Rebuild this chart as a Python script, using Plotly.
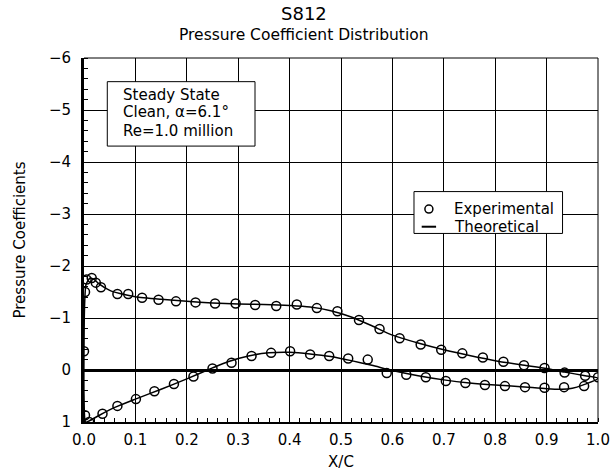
import plotly.graph_objects as go

# ---------------- data ----------------
exp_upper_x = [0.0, 0.002, 0.005, 0.015, 0.023, 0.033, 0.065, 0.086, 0.113, 0.145, 0.179,
               0.217, 0.255, 0.295, 0.333, 0.374, 0.414, 0.453, 0.493, 0.535, 0.575,
               0.614, 0.655, 0.695, 0.736, 0.776, 0.816, 0.856, 0.896, 0.935, 0.975, 1.0]
exp_upper_cp = [-0.36, -1.50, -1.74, -1.77, -1.68, -1.59, -1.46, -1.46, -1.39, -1.35, -1.32,
                -1.30, -1.28, -1.28, -1.25, -1.23, -1.26, -1.19, -1.13, -0.96, -0.79,
                -0.61, -0.49, -0.39, -0.32, -0.24, -0.16, -0.09, -0.04, 0.05, 0.11, 0.14]

exp_lower_x = [0.002, 0.010, 0.036, 0.065, 0.101, 0.137, 0.175, 0.213, 0.250, 0.287, 0.326,
               0.364, 0.401, 0.440, 0.477, 0.514, 0.552, 0.589, 0.627, 0.665, 0.704,
               0.742, 0.780, 0.819, 0.858, 0.896, 0.934, 0.973]
exp_lower_cp = [0.87, 1.00, 0.84, 0.69, 0.56, 0.41, 0.27, 0.125, -0.03, -0.14, -0.27,
                -0.33, -0.36, -0.30, -0.27, -0.22, -0.20, 0.06, 0.09, 0.14, 0.21,
                0.25, 0.29, 0.31, 0.33, 0.34, 0.33, 0.31]

# theoretical curve: trailing edge -> lower surface -> leading edge -> upper surface -> trailing edge
theo_x = [1.0, 0.97, 0.95, 0.93, 0.90, 0.85, 0.80, 0.75, 0.70, 0.65, 0.60, 0.56, 0.52,
          0.48, 0.44, 0.40, 0.36, 0.32, 0.28, 0.25, 0.20, 0.15, 0.10, 0.06, 0.03, 0.01,
          0.003, 0.0, 0.0, 0.001, 0.004, 0.012, 0.02, 0.03, 0.05, 0.07, 0.10, 0.15, 0.20,
          0.25, 0.30, 0.35, 0.40, 0.44, 0.48, 0.52, 0.56, 0.60, 0.65, 0.70, 0.75, 0.80,
          0.85, 0.90, 0.935, 0.975, 1.0]
theo_cp = [0.16, 0.29, 0.35, 0.37, 0.36, 0.32, 0.29, 0.25, 0.19, 0.11, 0.01, -0.09, -0.18,
           -0.26, -0.31, -0.34, -0.33, -0.27, -0.16, -0.04, 0.17, 0.37, 0.56, 0.72, 0.87, 0.98,
           1.0, 0.5, -0.4, -1.2, -1.65, -1.77, -1.74, -1.65, -1.53, -1.47, -1.41, -1.36, -1.32,
           -1.29, -1.27, -1.26, -1.24, -1.21, -1.14, -1.02, -0.85, -0.67, -0.52, -0.39, -0.28, -0.18,
           -0.10, -0.03, 0.04, 0.11, 0.16]

x_ticks = [0.0, 0.1, 0.2, 0.3, 0.4, 0.5, 0.6, 0.7, 0.8, 0.9, 1.0]
y_ticks = [-6, -5, -4, -3, -2, -1, 0, 1]

series_names = ["Experimental", "Theoretical"]
title_text = "S812"
subtitle_text = "Pressure Coefficient Distribution"
info_lines = ["Steady State", "Clean, \u03b1=6.1\u00b0", "Re=1.0 million"]

FONT = "DejaVu Sans"

fig = go.Figure()

fig.add_trace(go.Scatter(
    x=exp_upper_x + [None] + exp_lower_x,
    y=exp_upper_cp + [None] + exp_lower_cp,
    mode="markers", name=series_names[0], showlegend=False,
    marker=dict(symbol="circle-open", size=9, color="black", line=dict(width=1.5, color="black")),
))
fig.add_trace(go.Scatter(
    x=theo_x, y=theo_cp, mode="lines", name=series_names[1], showlegend=False,
    line=dict(color="black", width=1.5, shape="spline", smoothing=0.6),
))

W, H = 611, 471
L, R, T, B = 84, 13, 58, 49

fig.update_layout(
    width=W, height=H,
    margin=dict(l=L, r=R, t=T, b=B, autoexpand=False),
    paper_bgcolor="white", plot_bgcolor="white",
    font=dict(family=FONT, size=15, color="black"),
    showlegend=False,
    xaxis=dict(range=[0, 1], tickvals=x_ticks, ticktext=[f"{v:.1f}" for v in x_ticks],
               showgrid=True, gridcolor="black", gridwidth=1,
               showline=True, linecolor="black", linewidth=2,
               zeroline=False, ticks="", ticklabelstandoff=3,
               minor=dict(dtick=0.02, ticks="inside", ticklen=4, tickcolor="black",
                          tickwidth=1, showgrid=False),
               tickfont=dict(family=FONT, size=15),
               title=dict(text="X/C", font=dict(family=FONT, size=15), standoff=11),
               automargin=False),
    yaxis=dict(range=[1, -6], tickvals=y_ticks, ticktext=[str(v).replace("-", "\u2212") for v in y_ticks],
               showgrid=True, gridcolor="black", gridwidth=1,
               showline=True, linecolor="black", linewidth=3,
               zeroline=True, zerolinecolor="black", zerolinewidth=3,
               ticks="", ticklabelstandoff=7,
               minor=dict(dtick=0.2, ticks="inside", ticklen=4, tickcolor="black",
                          tickwidth=1, showgrid=False),
               tickfont=dict(family=FONT, size=15),
               title=dict(text="Pressure Coefficients", font=dict(family=FONT, size=15), standoff=20),
               automargin=False),
)

# border lines on top and right
fig.add_shape(type="line", xref="paper", yref="paper", x0=0, x1=1, y0=1, y1=1,
              line=dict(color="black", width=1))
fig.add_shape(type="line", xref="paper", yref="paper", x0=1, x1=1, y0=0, y1=1,
              line=dict(color="black", width=1))

# info box
fig.add_shape(type="rect", xref="paper", yref="paper", x0=0.0453, x1=0.3327, y0=0.758, y1=0.935,
              line=dict(color="black", width=1), fillcolor="white", layer="above")
for txt, yy in zip(info_lines, [0.898, 0.8525, 0.800]):
    fig.add_annotation(text=txt, xref="paper", yref="paper", x=0.0714, y=yy,
                       xanchor="left", yanchor="middle", showarrow=False,
                       font=dict(family=FONT, size=15, color="black"))

# legend box (drawn)
fig.add_shape(type="rect", xref="paper", yref="paper", x0=0.642, x1=0.931, y0=0.518, y1=0.633,
              line=dict(color="black", width=1), fillcolor="white", layer="above")
fig.add_shape(type="circle", xref="paper", yref="paper", xsizemode="pixel", ysizemode="pixel",
              xanchor=0.671, yanchor=0.585, x0=-4, x1=4, y0=-4, y1=4,
              line=dict(color="black", width=1.5), fillcolor="white", layer="above")
fig.add_shape(type="line", xref="paper", yref="paper", x0=0.657, x1=0.685, y0=0.5365, y1=0.5365,
              line=dict(color="black", width=2), layer="above")
for txt, yy in zip(series_names, [0.585, 0.5365]):
    fig.add_annotation(text=txt, xref="paper", yref="paper", x=0.7154, y=yy,
                       xanchor="left", yanchor="middle", showarrow=False,
                       font=dict(family=FONT, size=15, color="black"))

# titles
fig.add_annotation(text=title_text, xref="paper", yref="paper", x=0.428, y=1.1236,
                   xanchor="center", yanchor="middle", showarrow=False,
                   font=dict(family=FONT, size=18, color="black"))
fig.add_annotation(text=subtitle_text, xref="paper", yref="paper", x=0.428, y=1.063,
                   xanchor="center", yanchor="middle", showarrow=False,
                   font=dict(family=FONT, size=15.5, color="black"))

fig.write_html("out.html",
               config={"displayModeBar": False},
               post_script="document.body.style.margin='0';document.body.style.overflow='hidden';")
